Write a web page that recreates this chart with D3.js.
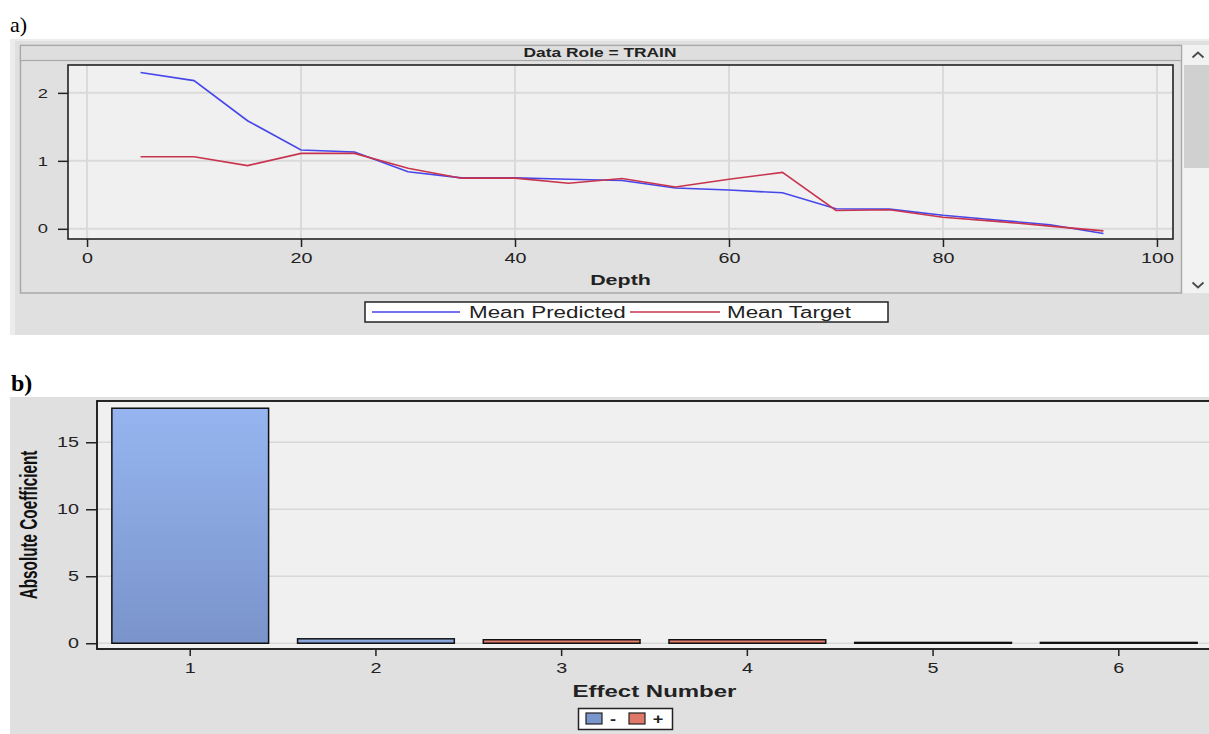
<!DOCTYPE html>
<html>
<head>
<meta charset="utf-8">
<script src="https://cdn.jsdelivr.net/npm/d3@7"></script>
<style>
  html, body { margin: 0; padding: 0; background: #ffffff; }
  svg { display: block; }
  text { font-family: "Liberation Sans", Arial, sans-serif; fill: #222; }
</style>
</head>
<body>
<svg id="chart" width="1209" height="734"></svg>
<script>
// ---- Panel a) : assessment plot ----
const depth = [5, 10, 15, 20, 25, 30, 35, 40, 45, 50, 55, 60, 65, 70, 75, 80, 85, 90, 95];
const meanPredicted = [2.30, 2.18, 1.59, 1.16, 1.13, 0.84, 0.75, 0.75, 0.73, 0.71, 0.60, 0.57, 0.53, 0.295, 0.29, 0.20, 0.13, 0.06, -0.07];
const meanTarget    = [1.06, 1.06, 0.93, 1.11, 1.11, 0.89, 0.745, 0.745, 0.67, 0.74, 0.615, 0.73, 0.83, 0.27, 0.28, 0.17, 0.11, 0.04, -0.03];
const depthTicks = [0, 20, 40, 60, 80, 100];
const meanTicks = [0, 1, 2];
const lineSeries = ["Mean Predicted", "Mean Target"];

// ---- Panel b) : effect coefficients ----
const effects = [1, 2, 3, 4, 5, 6];
const absCoef = [17.54, 0.33, 0.26, 0.26, 0.06, 0.06];
const coefSign = ["-", "-", "+", "+", "-", "-"];
const coefTicks = [0, 5, 10, 15];
const signLevels = ["-", "+"];

const svg = d3.select("#chart");
const SX = 1.41; // horizontal widening used by the plotting system's text

// text placed at (x,y) and widened horizontally
function wideText(parent, x, y, str, k, opts = {}) {
  return parent.append("text")
    .attr("transform", `translate(${x},${y}) scale(${k},1)`)
    .attr("text-anchor", opts.anchor || "middle")
    .style("font-size", (opts.size || 14) + "px")
    .style("font-weight", opts.weight || "normal")
    .text(str);
}

const defs = svg.append("defs");
const grad = defs.append("linearGradient").attr("id", "barBlue")
  .attr("x1", 0).attr("y1", 0).attr("x2", 0).attr("y2", 1);
grad.append("stop").attr("offset", "0%").attr("stop-color", "#96b5f0");
grad.append("stop").attr("offset", "100%").attr("stop-color", "#7a94cb");
const gradR = defs.append("linearGradient").attr("id", "barRed")
  .attr("x1", 0).attr("y1", 0).attr("x2", 0).attr("y2", 1);
gradR.append("stop").attr("offset", "0%").attr("stop-color", "#ec8a79");
gradR.append("stop").attr("offset", "100%").attr("stop-color", "#dc7462");

/* ================= panel a ================= */
svg.append("text").attr("x", 10).attr("y", 32)
  .style("font-family", "'Liberation Serif', 'Times New Roman', serif")
  .style("font-size", "22px").style("fill", "#000").text("a)");

const gA = svg.append("g");
gA.append("rect").attr("x", 10).attr("y", 39).attr("width", 1199).attr("height", 296).attr("fill", "#ececec");
gA.append("rect").attr("x", 15).attr("y", 41).attr("width", 1194).attr("height", 294).attr("fill", "#e0e0e0");
gA.append("rect").attr("x", 20.5).attr("y", 45.5).attr("width", 1161).attr("height", 247.5)
  .attr("fill", "#e0e0e0").attr("stroke", "#a9a9a9").attr("stroke-width", 1.5);
gA.append("rect").attr("x", 20.5).attr("y", 45.5).attr("width", 1161).attr("height", 15)
  .attr("fill", "#dedede").attr("stroke", "#a9a9a9").attr("stroke-width", 1.2);
wideText(gA, 600, 57, "Data Role = TRAIN", 1.39, { size: 12.5, weight: "bold" });

const plotA = { l: 68, r: 1173, t: 65, b: 239 };
const xA = d3.scaleLinear().domain([-1.78, 101.5]).range([plotA.l, plotA.r]);
const yA = d3.scaleLinear().domain([-0.15, 2.41]).range([plotA.b, plotA.t]);

gA.append("rect").attr("x", plotA.l).attr("y", plotA.t)
  .attr("width", plotA.r - plotA.l).attr("height", plotA.b - plotA.t).attr("fill", "#f0f0f0");

gA.append("g").selectAll("line").data(depthTicks).join("line")
  .attr("x1", d => xA(d)).attr("x2", d => xA(d)).attr("y1", plotA.t).attr("y2", plotA.b)
  .attr("stroke", "#dadada").attr("stroke-width", 2);
gA.append("g").selectAll("line").data(meanTicks).join("line")
  .attr("y1", d => yA(d)).attr("y2", d => yA(d)).attr("x1", plotA.l).attr("x2", plotA.r)
  .attr("stroke", "#dadada").attr("stroke-width", 2);

const lineGen = vals => d3.line().x((d, i) => xA(depth[i])).y(d => yA(d))(vals);
const lineColors = { "Mean Predicted": "#4646ea", "Mean Target": "#c8344e" };
gA.append("path").attr("d", lineGen(meanPredicted)).attr("fill", "none")
  .attr("stroke", lineColors["Mean Predicted"]).attr("stroke-width", 1.6);
gA.append("path").attr("d", lineGen(meanTarget)).attr("fill", "none")
  .attr("stroke", lineColors["Mean Target"]).attr("stroke-width", 1.6);

gA.append("rect").attr("x", plotA.l).attr("y", plotA.t)
  .attr("width", plotA.r - plotA.l).attr("height", plotA.b - plotA.t)
  .attr("fill", "none").attr("stroke", "#222").attr("stroke-width", 1.6);

const axXA = gA.append("g").attr("transform", `translate(0,${plotA.b})`)
  .call(d3.axisBottom(xA).tickValues(depthTicks).tickSize(8).tickPadding(6).tickFormat(d3.format("d")));
axXA.select(".domain").remove();
axXA.selectAll(".tick line").attr("stroke", "#222").attr("stroke-width", 1.5);
axXA.selectAll(".tick text").style("font-size", "14px").style("font-family", "'Liberation Sans', Arial, sans-serif")
  .attr("fill", "#222").attr("transform", `scale(${SX},1)`);

const axYA = gA.append("g").attr("transform", `translate(${plotA.l},0)`)
  .call(d3.axisLeft(yA).tickValues(meanTicks).tickSize(10).tickPadding(9).tickFormat(d3.format("d")));
axYA.select(".domain").remove();
axYA.selectAll(".tick line").attr("stroke", "#222").attr("stroke-width", 1.5);
axYA.selectAll(".tick text").style("font-size", "13px").style("font-family", "'Liberation Sans', Arial, sans-serif")
  .attr("fill", "#222").attr("x", -20 / SX).attr("transform", `scale(${SX},1)`);

wideText(gA, (plotA.l + plotA.r) / 2, 285, "Depth", 1.43, { size: 15, weight: "bold" });

// scrollbar strip
gA.append("rect").attr("x", 1182.5).attr("y", 45).attr("width", 27).attr("height", 248).attr("fill", "#f2f2f2");
gA.append("rect").attr("x", 1184).attr("y", 65).attr("width", 25).attr("height", 103).attr("fill", "#d0d0d0");
gA.append("path").attr("d", "M1192.5,57.5 L1198,52.5 L1203.5,57.5").attr("fill", "none")
  .attr("stroke", "#4a4a4a").attr("stroke-width", 1.8);
gA.append("path").attr("d", "M1192.5,282.5 L1198,287.5 L1203.5,282.5").attr("fill", "none")
  .attr("stroke", "#4a4a4a").attr("stroke-width", 1.8);

// legend a
const legA = gA.append("g");
legA.append("rect").attr("x", 365).attr("y", 302).attr("width", 523).attr("height", 20)
  .attr("fill", "#fff").attr("stroke", "#222").attr("stroke-width", 1.5);
const legItemsA = [
  { name: lineSeries[0], x0: 372, x1: 460, tx: 469 },
  { name: lineSeries[1], x0: 630, x1: 720, tx: 727 }
];
legItemsA.forEach(it => {
  legA.append("line").attr("x1", it.x0).attr("x2", it.x1).attr("y1", 312).attr("y2", 312)
    .attr("stroke", lineColors[it.name]).attr("stroke-width", 1.5);
  wideText(legA, it.tx, 317.5, it.name, 1.4, { size: 16, anchor: "start" });
});

/* ================= panel b ================= */
svg.append("text").attr("x", 11).attr("y", 391)
  .style("font-family", "'Liberation Serif', 'Times New Roman', serif")
  .style("font-size", "24px").style("font-weight", "bold").style("fill", "#000").text("b)");

const gB = svg.append("g");
gB.append("rect").attr("x", 10).attr("y", 397).attr("width", 1199).attr("height", 337).attr("fill", "#e0e0e0");

const plotB = { l: 97, r: 1212, t: 401, b: 649 };
const xB = d3.scaleBand().domain(effects).range([plotB.l, plotB.r]).paddingInner(0.156).paddingOuter(0.08);
const yB = d3.scaleLinear().domain([-0.43, 18.08]).range([plotB.b, plotB.t]);

gB.append("rect").attr("x", plotB.l).attr("y", plotB.t)
  .attr("width", plotB.r - plotB.l).attr("height", plotB.b - plotB.t).attr("fill", "#f0f0f0");
gB.append("g").selectAll("line").data(coefTicks).join("line")
  .attr("y1", d => yB(d)).attr("y2", d => yB(d)).attr("x1", plotB.l).attr("x2", plotB.r)
  .attr("stroke", "#d8d8d8").attr("stroke-width", 1.5);

gB.append("g").selectAll("rect").data(effects).join("rect")
  .attr("x", d => xB(d)).attr("width", xB.bandwidth())
  .attr("y", (d, i) => yB(absCoef[i]))
  .attr("height", (d, i) => yB(0) - yB(absCoef[i]))
  .attr("fill", (d, i) => coefSign[i] === "-" ? "url(#barBlue)" : "url(#barRed)")
  .attr("stroke", "#111").attr("stroke-width", 1.5);

gB.append("rect").attr("x", plotB.l).attr("y", plotB.t)
  .attr("width", plotB.r - plotB.l).attr("height", plotB.b - plotB.t)
  .attr("fill", "none").attr("stroke", "#111").attr("stroke-width", 1.8);

const axXB = gB.append("g").attr("transform", `translate(0,${plotB.b})`)
  .call(d3.axisBottom(xB).tickSize(7).tickPadding(7));
axXB.select(".domain").remove();
axXB.selectAll(".tick line").attr("stroke", "#222").attr("stroke-width", 1.5);
axXB.selectAll(".tick text").style("font-size", "14px").style("font-family", "'Liberation Sans', Arial, sans-serif")
  .attr("fill", "#222").attr("transform", `scale(${SX},1)`);

const axYB = gB.append("g").attr("transform", `translate(${plotB.l},0)`)
  .call(d3.axisLeft(yB).tickValues(coefTicks).tickSize(11).tickPadding(7).tickFormat(d3.format("d")));
axYB.select(".domain").remove();
axYB.selectAll(".tick line").attr("stroke", "#222").attr("stroke-width", 1.5);
axYB.selectAll(".tick text").style("font-size", "14px").style("font-family", "'Liberation Sans', Arial, sans-serif")
  .attr("fill", "#222").attr("x", -18 / SX).attr("transform", `scale(${SX},1)`);

wideText(gB, (plotB.l + plotB.r) / 2, 697, "Effect Number", 1.5, { size: 16, weight: "bold" });

// condensed, tall vertical axis title
gB.append("text")
  .attr("transform", "translate(37,525) rotate(-90) scale(0.85,1.29)")
  .attr("text-anchor", "middle")
  .style("font-family", "'Liberation Sans', Arial, sans-serif")
  .style("font-size", "18px").style("font-weight", "bold").style("fill", "#111")
  .text("Absolute Coefficient");

// legend b
const legB = gB.append("g");
legB.append("rect").attr("x", 578.5).attr("y", 708.5).attr("width", 94).attr("height", 21)
  .attr("fill", "#fff").attr("stroke", "#222").attr("stroke-width", 1.5);
const signColor = { "-": "#7b96cc", "+": "#e0786a" };
signLevels.forEach((s, i) => {
  const x0 = 586 + i * 43;
  legB.append("rect").attr("x", x0).attr("y", 713).attr("width", 16).attr("height", 11)
    .attr("fill", signColor[s]).attr("stroke", "#222").attr("stroke-width", 1.2);
  wideText(legB, x0 + 27 + i * 2, 724, s, 1.3, { size: 14, weight: "bold" });
});
</script>
</body>
</html>
